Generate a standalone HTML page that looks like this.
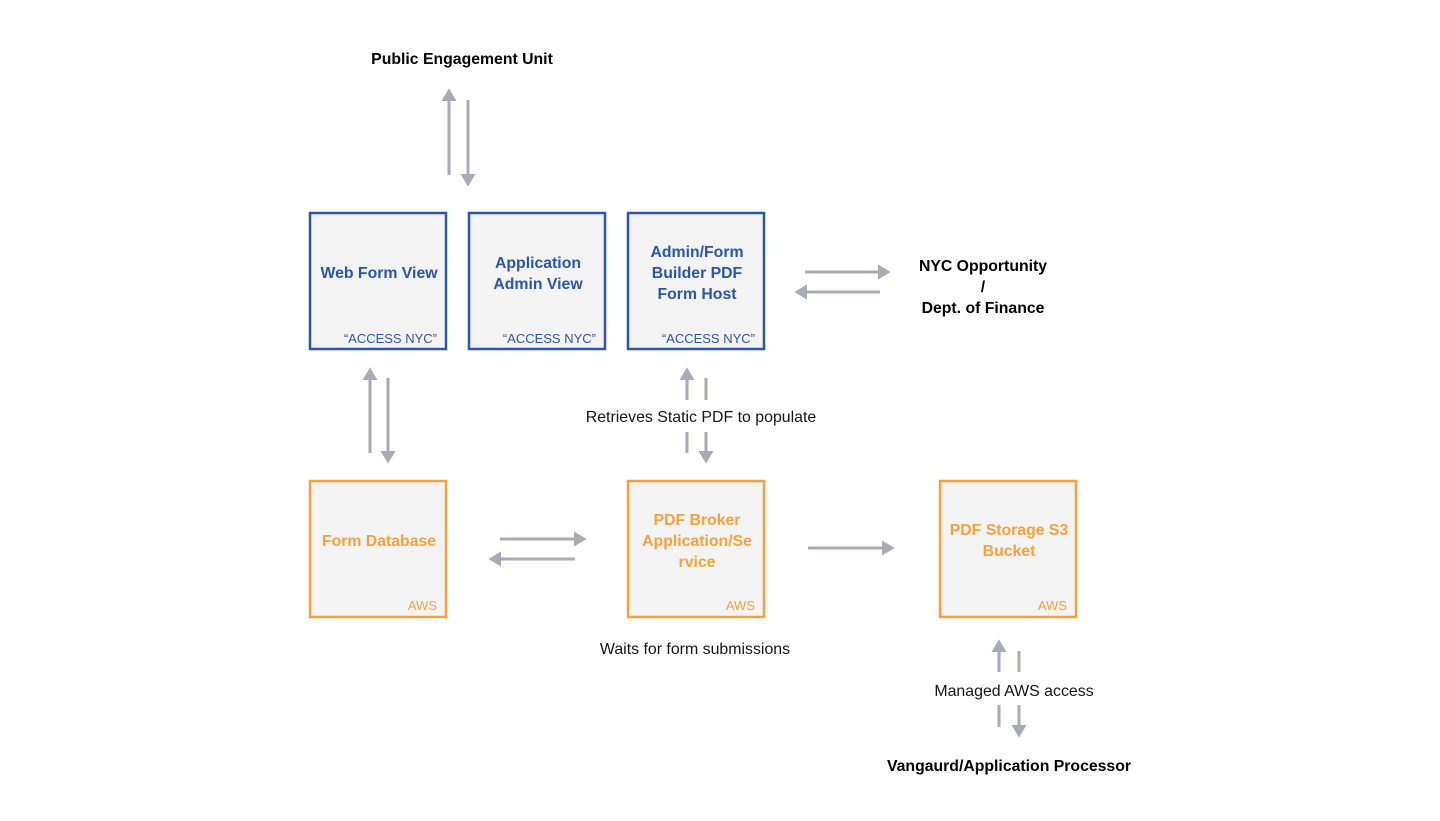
<!DOCTYPE html>
<html><head><meta charset="utf-8"><style>
html,body{margin:0;padding:0;background:#fff;}
svg{display:block;}
text{font-family:"Liberation Sans",sans-serif;}
.b{font-weight:bold;font-size:15.8px;}
.r{font-size:15.9px;fill:#161616;}
.blue{fill:#2d55a8;}
.org{fill:#f6a13e;}
</style></head><body>
<svg width="1440" height="821" viewBox="0 0 1440 821" xmlns="http://www.w3.org/2000/svg">
<defs>
<marker id="a" markerWidth="5" markerHeight="5" refX="1" refY="2.5" orient="auto" markerUnits="strokeWidth">
<path d="M0,0 L4.2,2.5 L0,5 z" fill="#a9a9b7"/></marker>
</defs>
<g fill="#f3f3f3" stroke-width="2.5">
<rect x="310" y="213" width="136" height="136" stroke="#2d55a8"/>
<rect x="469" y="213" width="136" height="136" stroke="#2d55a8"/>
<rect x="628" y="213" width="136" height="136" stroke="#2d55a8"/>
<rect x="310" y="481" width="136" height="136" stroke="#f6a13e"/>
<rect x="628" y="481" width="136" height="136" stroke="#f6a13e"/>
<rect x="940" y="481" width="136" height="136" stroke="#f6a13e"/>
</g>
<g text-anchor="middle" class="b">
<text x="379" y="278" class="b blue">Web Form View</text>
<text x="538" y="268" class="b blue">Application</text>
<text x="538" y="289" class="b blue">Admin View</text>
<text x="697" y="257" class="b blue">Admin/Form</text>
<text x="697" y="278" class="b blue">Builder PDF</text>
<text x="697" y="299" class="b blue">Form Host</text>
<text x="379" y="546" class="b org">Form Database</text>
<text x="697" y="525" class="b org">PDF Broker</text>
<text x="697" y="546" class="b org">Application/Se</text>
<text x="697" y="567" class="b org">rvice</text>
<text x="1009" y="535" class="b org">PDF Storage S3</text>
<text x="1009" y="556" class="b org">Bucket</text>
</g>
<g text-anchor="end" font-size="13">
<text x="437" y="343" class="blue">“ACCESS NYC”</text>
<text x="596" y="343" class="blue">“ACCESS NYC”</text>
<text x="755" y="343" class="blue">“ACCESS NYC”</text>
<text x="437" y="610" class="org">AWS</text>
<text x="755" y="610" class="org">AWS</text>
<text x="1067" y="610" class="org">AWS</text>
</g>
<g text-anchor="middle">
<text x="462" y="64" class="b">Public Engagement Unit</text>
<text x="983" y="271" class="b">NYC Opportunity</text>
<text x="983" y="292" class="b">/</text>
<text x="983" y="313" class="b">Dept. of Finance</text>
<text x="1009" y="771" class="b">Vangaurd/Application Processor</text>
<text x="701" y="422" class="r">Retrieves Static PDF to populate</text>
<text x="695" y="654" class="r">Waits for form submissions</text>
<text x="1014" y="696" class="r">Managed AWS access</text>
</g>
<g stroke="#a9a9b7" stroke-width="3" fill="none">
<line x1="449" y1="175" x2="449" y2="98" marker-end="url(#a)"/>
<line x1="468" y1="100" x2="468" y2="177" marker-end="url(#a)"/>
<line x1="370" y1="453" x2="370" y2="377" marker-end="url(#a)"/>
<line x1="388" y1="378" x2="388" y2="454" marker-end="url(#a)"/>
<line x1="687" y1="400" x2="687" y2="377" marker-end="url(#a)"/>
<line x1="687" y1="432" x2="687" y2="453"/>
<line x1="706" y1="378" x2="706" y2="400"/>
<line x1="706" y1="432" x2="706" y2="454" marker-end="url(#a)"/>
<line x1="805" y1="272" x2="881" y2="272" marker-end="url(#a)"/>
<line x1="880" y1="292" x2="804" y2="292" marker-end="url(#a)"/>
<line x1="500" y1="539" x2="577" y2="539" marker-end="url(#a)"/>
<line x1="575" y1="559" x2="498" y2="559" marker-end="url(#a)"/>
<line x1="808" y1="548" x2="885" y2="548" marker-end="url(#a)"/>
<line x1="999" y1="672" x2="999" y2="649" marker-end="url(#a)"/>
<line x1="999" y1="705" x2="999" y2="727"/>
<line x1="1019" y1="651" x2="1019" y2="672"/>
<line x1="1019" y1="705" x2="1019" y2="728" marker-end="url(#a)"/>
</g>
</svg>
</body></html>
